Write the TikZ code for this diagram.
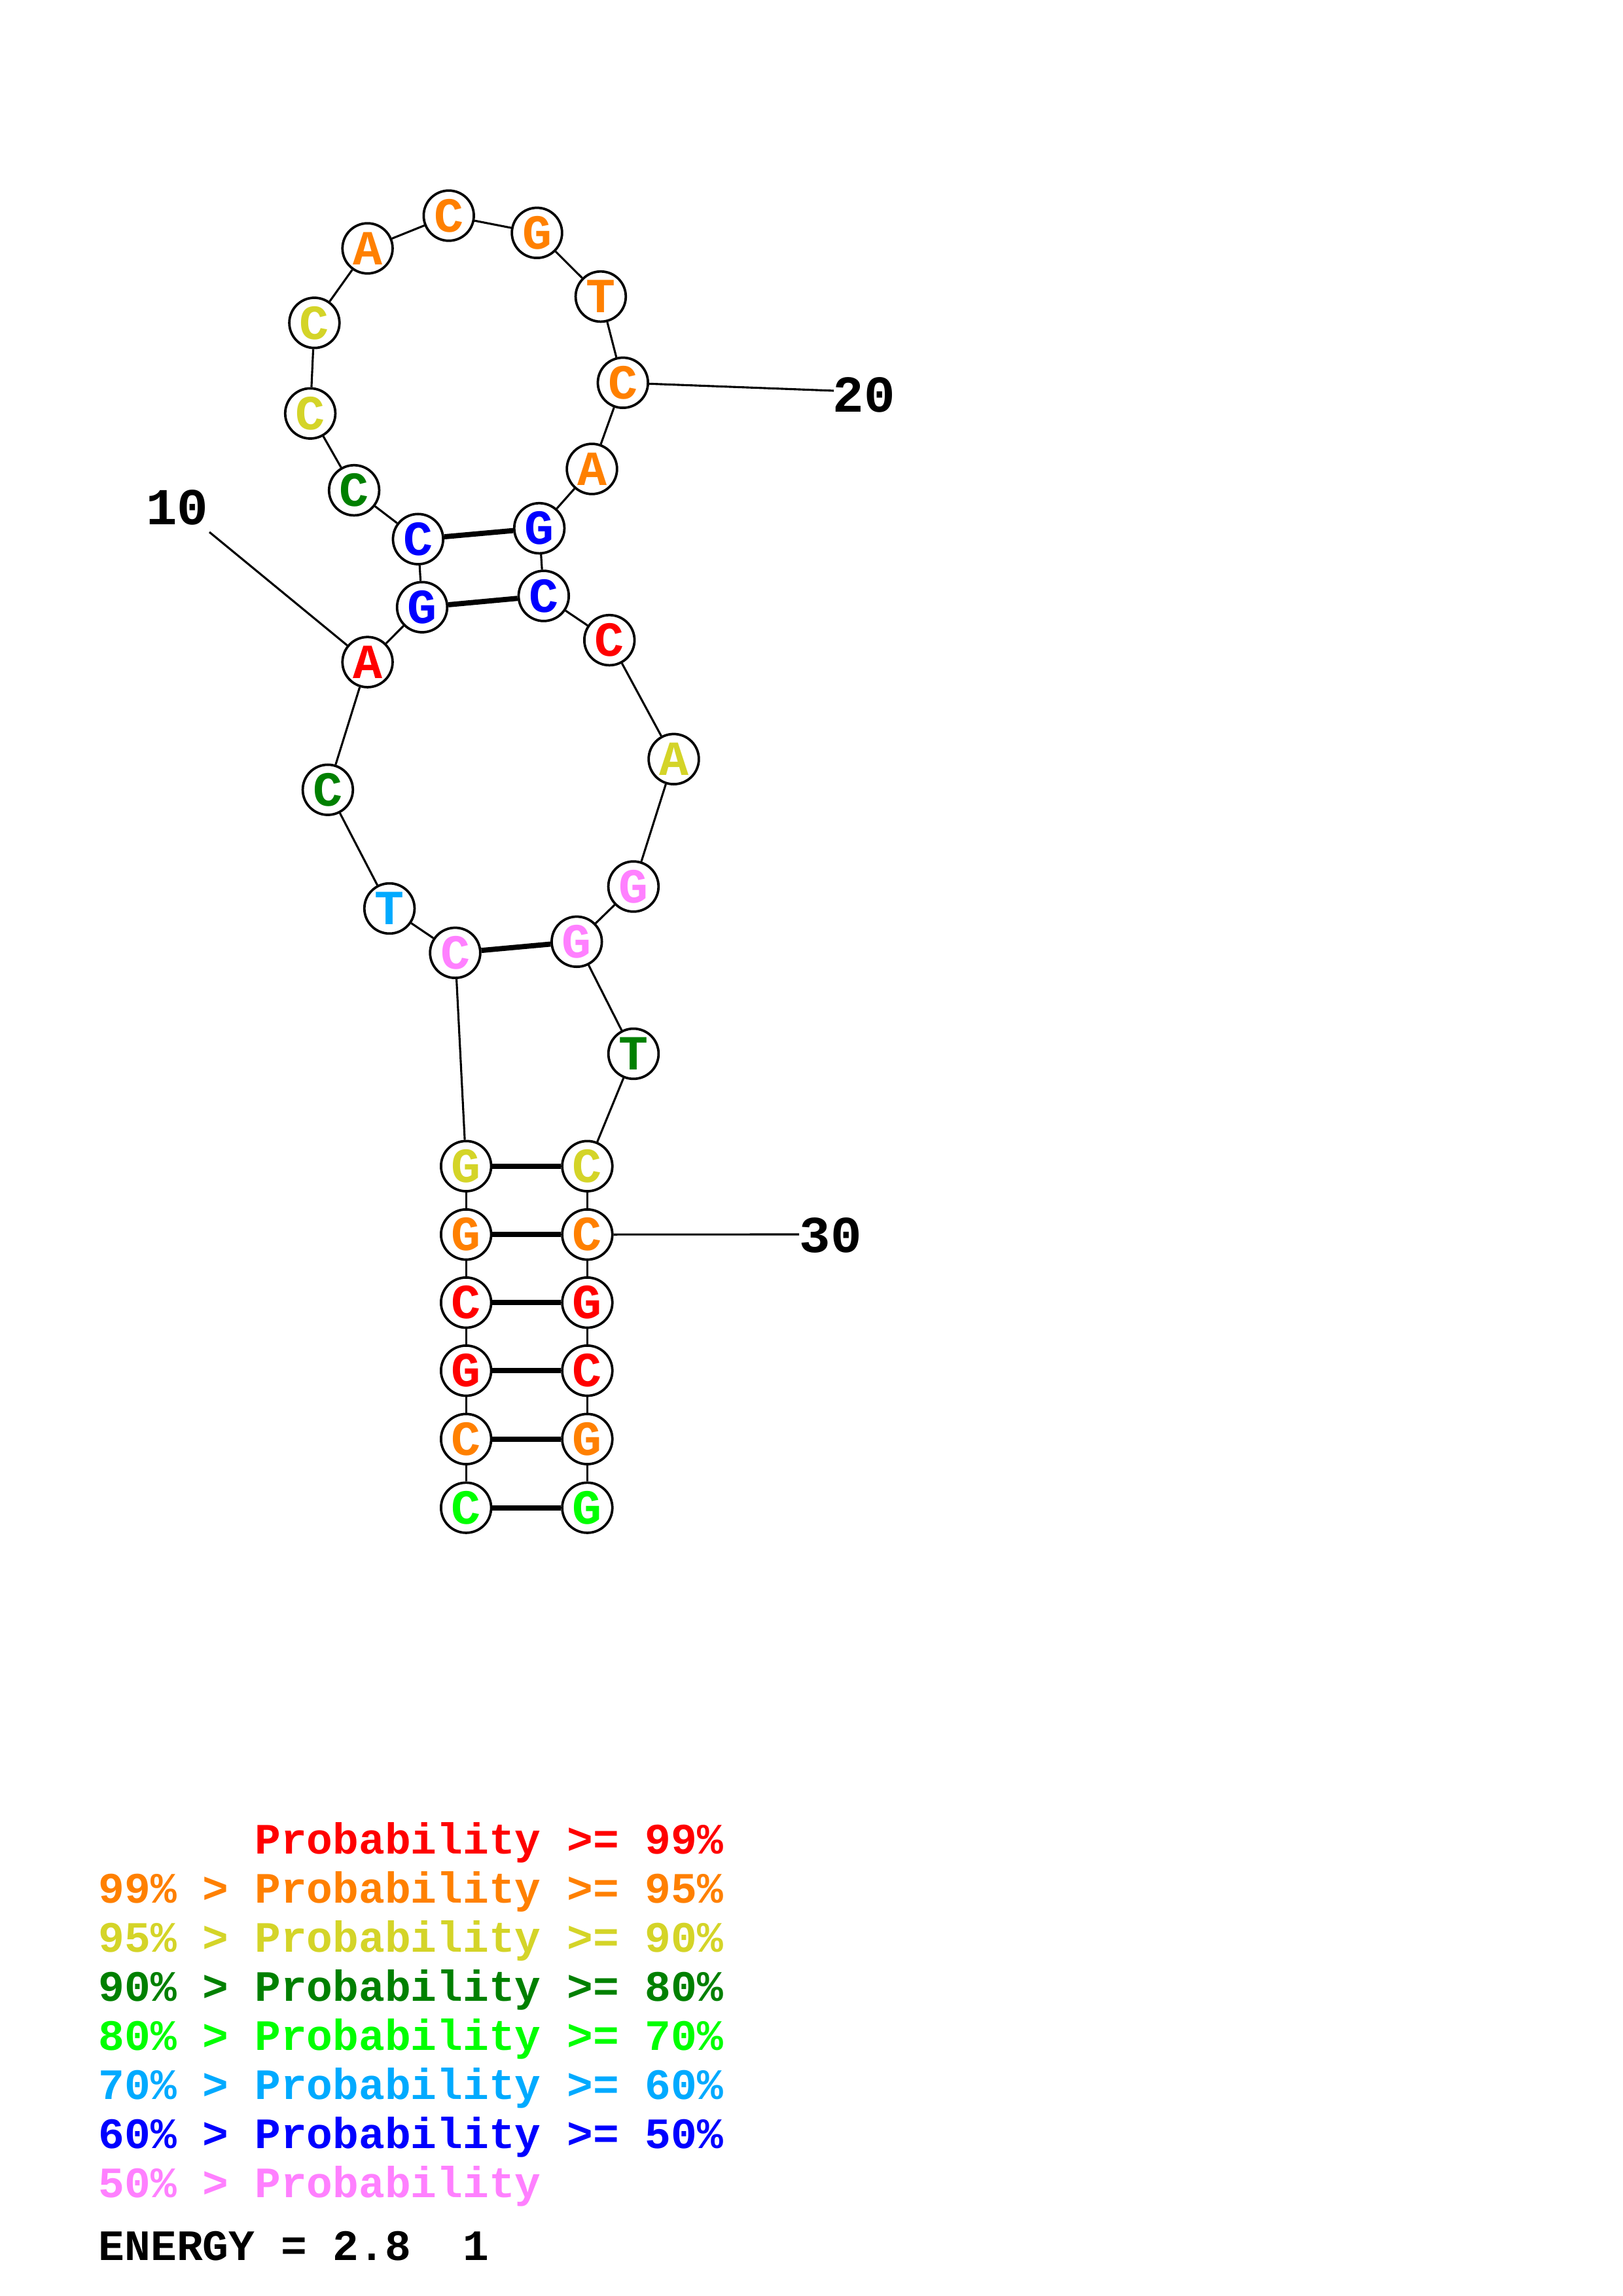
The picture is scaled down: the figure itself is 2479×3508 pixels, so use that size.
\documentclass[tikz,border=0pt]{standalone}
\usepackage{fontspec}
\newfontfamily\cour{Liberation Mono}
\definecolor{cR}{RGB}{255,0,0}
\definecolor{cO}{RGB}{255,128,0}
\definecolor{cY}{RGB}{212,212,40}
\definecolor{cDG}{RGB}{0,128,0}
\definecolor{cG}{RGB}{0,255,0}
\definecolor{cC}{RGB}{0,170,255}
\definecolor{cB}{RGB}{0,0,255}
\definecolor{cP}{RGB}{255,128,255}
\begin{document}
\begin{tikzpicture}[x=0.24pt,y=-0.24pt,
  nt/.style={circle,draw,line width=0.9pt,minimum size=18.4pt,inner sep=0pt,fill=white,
    font=\cour\bfseries\fontsize{18}{18}\selectfont},
  bb/.style={line width=0.75pt},
  bp/.style={line width=1.9pt},
  lab/.style={inner sep=0pt,font=\cour\bfseries\fontsize{19}{19}\selectfont},
  leg/.style={anchor=base west,inner sep=0pt,font=\cour\bfseries\fontsize{15.9}{15.9}\selectfont}]
\useasboundingbox[fill=white] (0,0) rectangle (2479,3508);
% nucleotides
\node[nt,text=cG]  (n1)  at (712.2,2303.6) {C};
\node[nt,text=cO]  (n2)  at (712.2,2198.7) {C};
\node[nt,text=cR]  (n3)  at (712.2,2094.2) {G};
\node[nt,text=cR]  (n4)  at (712.2,1990.2) {C};
\node[nt,text=cO]  (n5)  at (712.2,1886.2) {G};
\node[nt,text=cY]  (n6)  at (712.2,1781.7) {G};
\node[nt,text=cP]  (n7)  at (695.5,1455.8) {C};
\node[nt,text=cC]  (n8)  at (595.1,1388.0) {T};
\node[nt,text=cDG] (n9)  at (500.9,1206.7) {C};
\node[nt,text=cR]  (n10) at (561.6,1011.6) {A};
\node[nt,text=cB]  (n11) at (645.0,927.7) {G};
\node[nt,text=cB]  (n12) at (638.8,823.7) {C};
\node[nt,text=cDG] (n13) at (541.1,749.1) {C};
\node[nt,text=cY]  (n14) at (474.1,631.7) {C};
\node[nt,text=cY]  (n15) at (480.4,493.3) {C};
\node[nt,text=cO]  (n16) at (561.6,379.5) {A};
\node[nt,text=cO]  (n17) at (685.7,329.5) {C};
\node[nt,text=cO]  (n18) at (820.5,355.8) {G};
\node[nt,text=cO]  (n19) at (917.9,453.1) {T};
\node[nt,text=cO]  (n20) at (951.8,584.8) {C};
\node[nt,text=cO]  (n21) at (904.5,716.5) {A};
\node[nt,text=cB]  (n22) at (824.1,807.1) {G};
\node[nt,text=cB]  (n23) at (830.8,910.5) {C};
\node[nt,text=cR]  (n24) at (931.2,978.1) {C};
\node[nt,text=cY]  (n25) at (1029.5,1159.8) {A};
\node[nt,text=cP]  (n26) at (967.9,1354.5) {G};
\node[nt,text=cP]  (n27) at (881.3,1438.8) {G};
\node[nt,text=cDG] (n28) at (968.0,1610.0) {T};
\node[nt,text=cY]  (n29) at (897.4,1781.7) {C};
\node[nt,text=cO]  (n30) at (897.4,1886.2) {C};
\node[nt,text=cR]  (n31) at (897.4,1990.2) {G};
\node[nt,text=cR]  (n32) at (897.4,2094.2) {C};
\node[nt,text=cO]  (n33) at (897.4,2198.7) {G};
\node[nt,text=cG]  (n34) at (897.4,2303.6) {G};
% backbone
\foreach \a/\b in {1/2,2/3,3/4,4/5,5/6,6/7,7/8,8/9,9/10,10/11,11/12,12/13,13/14,14/15,15/16,16/17,17/18,18/19,19/20,20/21,21/22,22/23,23/24,24/25,25/26,26/27,27/28,28/29,29/30,30/31,31/32,32/33,33/34}
  \draw[bb] (n\a) -- (n\b);
% base pairs
\foreach \a/\b in {1/34,2/33,3/32,4/31,5/30,6/29,7/27,11/23,12/22}
  \draw[bp] (n\a) -- (n\b);
% numbering
\coordinate (e10) at (320,813);
\coordinate (e20) at (1274,597);
\coordinate (e30) at (1221,1886);
\draw[bb] (n10) -- (e10);
\draw[bb] (n20) -- (e20);
\draw[bb] (n30) -- (e30);
\node[lab] (t10) at (270.8,775.3) {10};
\node[lab] (t20) at (1320,603) {20};
\node[lab] (t30) at (1269,1887) {30};
% legend
\node[leg,text=cR]  (g1) at (150,2832) {\phantom{99\% > }Probability >= 99\%};
\node[leg,text=cO]  (g2) at (150,2907) {99\% > Probability >= 95\%};
\node[leg,text=cY]  (g3) at (150,2982) {95\% > Probability >= 90\%};
\node[leg,text=cDG] (g4) at (150,3057) {90\% > Probability >= 80\%};
\node[leg,text=cG]  (g5) at (150,3132) {80\% > Probability >= 70\%};
\node[leg,text=cC]  (g6) at (150,3207) {70\% > Probability >= 60\%};
\node[leg,text=cB]  (g7) at (150,3282) {60\% > Probability >= 50\%};
\node[leg,text=cP]  (g8) at (150,3357) {50\% > Probability};
\node[leg,text=black] (en) at (150,3453) {ENERGY = 2.8~~1};
\end{tikzpicture}
\end{document}
